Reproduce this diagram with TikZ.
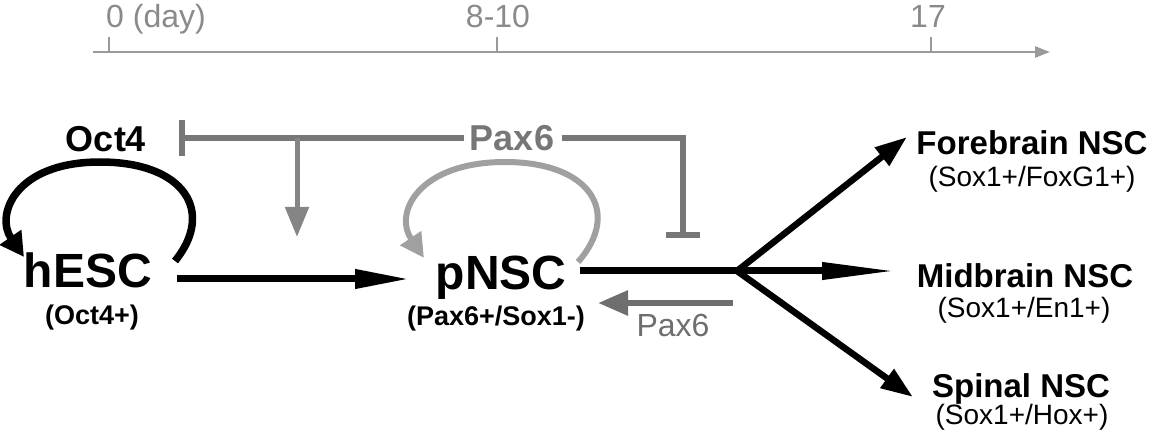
\documentclass[tikz,border=0pt]{standalone}
\usepackage{fontspec}
\setmainfont{Liberation Sans}
\usetikzlibrary{arrows.meta}
\definecolor{tlgray}{HTML}{9A9A9A}
\definecolor{tlgtext}{HTML}{8A8A8A}
\definecolor{pgray}{HTML}{777777}
\definecolor{loopgray}{HTML}{A0A0A0}
\definecolor{backgray}{HTML}{6E6E6E}
\tikzset{
  lbl/.style={inner sep=0pt, anchor=base},
  cell/.style={lbl, font=\bfseries\fontsize{48}{48}\selectfont},
  gene/.style={lbl, font=\bfseries\fontsize{36}{36}\selectfont},
  marker/.style={lbl, font=\bfseries\fontsize{27}{27}\selectfont},
  fate/.style={lbl, font=\bfseries\fontsize{33}{33}\selectfont},
  fmark/.style={lbl, font=\fontsize{28}{28}\selectfont},
  tltext/.style={lbl, text=tlgtext, font=\fontsize{32}{32}\selectfont},
  blackarrow/.style={line width=7pt, draw=black},
}
\begin{document}
\begin{tikzpicture}[x=1pt, y=-1pt]
\useasboundingbox (0,0) rectangle (1151,430);
% timeline
\node[tltext] (d0) at (156,28) {0 (day)};
\node[tltext] (d8) at (498,28) {8-10};
\node[tltext] (d17) at (928,28) {17};
\coordinate (tls) at (93,52);
\coordinate (tle) at (1050,52);
\coordinate (t0) at (109,52);
\coordinate (t8) at (497,52);
\coordinate (t17) at (931,52);
\draw[tlgray, line width=2.5pt, -{Triangle[length=15pt,width=11pt]}] (tls) -- (tle);
\draw[tlgray, line width=2.5pt] (t0) -- ++(0,-15);
\draw[tlgray, line width=2.5pt] (t8) -- ++(0,-15);
\draw[tlgray, line width=2.5pt] (t17) -- ++(0,-15);

% genes
\node[gene] (oct4) at (106,152) {Oct4};
\node[gene, text=pgray] (pax6) at (512,151) {Pax6};
\coordinate (obar) at (179,138);
\coordinate (pw) at (464,138);
\coordinate (pe) at (562,138);
\coordinate (pcorner) at (683,138);
\coordinate (pbar) at (683,238);
\coordinate (dtop) at (297,138);
\coordinate (dtip) at (297,237);
\draw[pgray, line width=5.5pt, -{Bar[width=36pt]}] (pw) -- (obar);
\draw[pgray, line width=5.5pt, -{Bar[width=34pt]}] (pe) -- (pcorner) -- (pbar);
\draw[pgray!90!white, line width=5pt, -{Triangle[length=30pt,width=23pt]}] (dtop) -- (dtip);

% cells
\node[cell] (hesc) at (88,288) {hESC};
\node[marker] (hescm) at (92,324) {(Oct4+)};
\node[cell] (pnsc) at (501,290) {pNSC};
\node[marker] (pnscm) at (496,325) {(Pax6+/Sox1-)};

% self loops
\coordinate (hl0) at (175,261);
\coordinate (hl1) at (24,257);
\draw[black, line width=7.5pt, -{Triangle[length=24pt,width=25pt]}]
  (hl0) .. controls (215,212) and (185,162) .. (100,162)
        .. controls (15,162) and (-5,215) .. (hl1);
\coordinate (pl0) at (578,262);
\coordinate (pl1) at (424,258);
\draw[loopgray, line width=6pt, -{Triangle[length=24pt,width=24pt]}]
  (pl0) .. controls (622,212) and (590,162) .. (505,162)
        .. controls (420,162) and (393,212) .. (pl1);

% hESC -> pNSC
\coordinate (ha) at (177,279);
\coordinate (hb) at (410,279);
\draw[blackarrow, -{Triangle[length=55pt,width=18pt]}] (ha) -- (hb);

% pNSC -> fates
\coordinate (pa) at (580,271);
\coordinate (junc) at (737,271);
\node[fate] (fore) at (1032,155) {Forebrain NSC};
\node[fmark] (forem) at (1032,187) {(Sox1+/FoxG1+)};
\node[fate] (mid) at (1025,288) {Midbrain NSC};
\node[fmark] (midm) at (1024,317) {(Sox1+/En1+)};
\node[fate] (spin) at (1021,397) {Spinal NSC};
\node[fmark] (spinm) at (1022,424) {(Sox1+/Hox+)};
\coordinate (ftip) at (907,137);
\coordinate (mtip) at (897,271);
\coordinate (stip) at (913,397);
\draw[blackarrow, line cap=butt] (pa) -- (junc);
\draw[blackarrow, -{Triangle[length=75pt,width=16pt]}] (junc) -- (mtip);
\draw[blackarrow, line width=6.5pt, -{Triangle[length=32pt,width=22pt]}] (junc) -- (ftip);
\draw[blackarrow, line width=6.5pt, -{Triangle[length=32pt,width=22pt]}] (junc) -- (stip);

% Pax6 feedback
\coordinate (ba) at (733,303);
\coordinate (bb) at (598,303);
\draw[backgray, line width=6pt, -{Triangle[length=30pt,width=24pt]}] (ba) -- (bb);
\node[lbl, text=backgray, font=\fontsize{32}{32}\selectfont] (pax6b) at (673,337) {Pax6};
\end{tikzpicture}
\end{document}
